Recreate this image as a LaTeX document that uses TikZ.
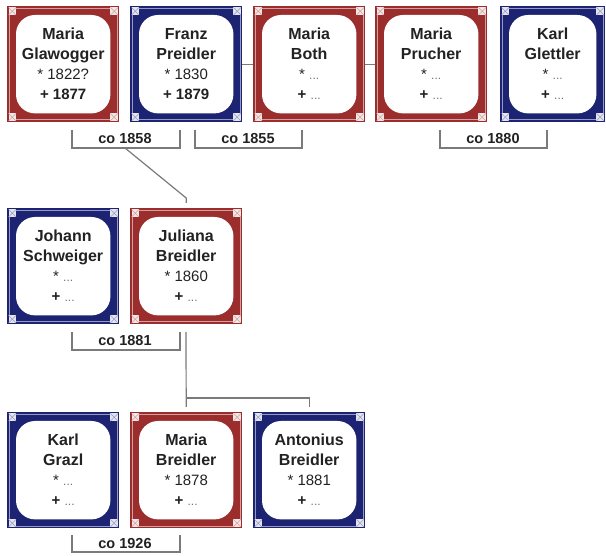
\documentclass[tikz,border=0pt]{standalone}
\usepackage{fontspec}
\setmainfont{Liberation Sans}
\usetikzlibrary{calc}
\definecolor{fred}{HTML}{9B2D2D}
\definecolor{fblue}{HTML}{1C2372}
\definecolor{lgray}{HTML}{7A7A7A}
\definecolor{ftext}{HTML}{222222}
\tikzset{
  conn/.style={draw=lgray, line width=1.2pt},
  frame/.style={draw=none, rectangle, inner sep=0pt, minimum height=116pt},
  names/.style={align=center, text=ftext, font=\fontsize{16}{20}\selectfont\bfseries, inner sep=0pt},
  marr/.style={text=ftext, font=\fontsize{14.5}{16}\selectfont\bfseries, inner sep=0pt},
}
\newcommand\pborn[1]{{\fontsize{15}{20}\selectfont\mdseries * #1}}
\newcommand\pdied[1]{{\fontsize{15}{20}\selectfont + #1}}
\newcommand\punk{{\color{black!55}\fontsize{12}{20}\selectfont\mdseries ...}}
\newcommand\person[6]{%
  \node[frame, fill=#5, minimum width=#4pt, anchor=north west] (#1) at (#2,#3) {};
  \draw[white, opacity=0.55, line width=0.8pt] ([shift={(2.5pt,-2.5pt)}]#1.north west) rectangle ([shift={(-2.5pt,2.5pt)}]#1.south east);
  \fill[white, rounded corners=19pt] ([shift={(9pt,-9pt)}]#1.north west) rectangle ([shift={(-9pt,9pt)}]#1.south east);
  \foreach \a/\sx/\sy in {north west/1/-1, north east/-1/-1, south west/1/1, south east/-1/1} {
    \path ([shift={(\sx*1.5pt,\sy*1.5pt)}]#1.\a) coordinate (cA)
          ([shift={(\sx*9pt,\sy*9pt)}]#1.\a) coordinate (cB);
    \fill[white!88!#5] (cA) rectangle (cB);
    \draw[white!55!#5, line width=0.5pt] (cA) -- (cB) (cA -| cB) -- (cA |- cB);
  }
  \node[names] at (#1.center) {#6};
}
\begin{document}
\begin{tikzpicture}[x=1pt,y=-1pt]
\useasboundingbox[fill=white] (0,0) rectangle (606,556);
% row 1
\person{mg}{7}{6}{112}{fred}{Maria\\Glawogger\\\pborn{1822?}\\\pdied{1877}}
\person{fp}{130}{6}{112}{fblue}{Franz\\Preidler\\\pborn{1830}\\\pdied{1879}}
\person{mb}{253}{6}{112}{fred}{Maria\\Both\\\pborn{\punk}\\\pdied{\punk}}
\person{mp}{375}{6}{112}{fred}{Maria\\Prucher\\\pborn{\punk}\\\pdied{\punk}}
\person{kg}{500}{6}{105}{fblue}{Karl\\Glettler\\\pborn{\punk}\\\pdied{\punk}}
% row 2
\person{js}{7}{208}{112}{fblue}{Johann\\Schweiger\\\pborn{\punk}\\\pdied{\punk}}
\person{jb}{130}{208}{112}{fred}{Juliana\\Breidler\\\pborn{1860}\\\pdied{\punk}}
% row 3
\person{kgr}{7}{412}{112}{fblue}{Karl\\Grazl\\\pborn{\punk}\\\pdied{\punk}}
\person{mbr}{130}{412}{112}{fred}{Maria\\Breidler\\\pborn{1878}\\\pdied{\punk}}
\person{ab}{253}{412}{112}{fblue}{Antonius\\Breidler\\\pborn{1881}\\\pdied{\punk}}
% partner lines
\draw[conn] (fp.east) -- (mb.west);
\draw[conn] (mb.east) -- (mp.west);
% marriage brackets
\draw[conn] (72,130) -- (72,148) -- (180,148) -- (180,130);
\node[marr] (m1858) at (125,139) {co 1858};
\draw[conn] (195,130) -- (195,148) -- (302,148) -- (302,130);
\node[marr] (m1855) at (248,139) {co 1855};
\draw[conn] (440,130) -- (440,148) -- (547,148) -- (547,130);
\node[marr] (m1880) at (493,139) {co 1880};
\draw[conn] (72,332) -- (72,350) -- (180,350) -- (180,332);
\node[marr] (m1881) at (125,341) {co 1881};
\draw[conn] (72,535) -- (72,552) -- (180,552) -- (180,535);
\node[marr] (m1926) at (125,544) {co 1926};
% descent lines
\coordinate (d1858) at (125,148);
\draw[conn] (d1858) -- ([yshift=10pt]jb.north) -- ([yshift=5pt]jb.north);
\coordinate (d1881) at (186,332);
\coordinate (fam) at (186,398);
\draw[conn] (d1881) -- ([yshift=5pt]mbr.north);
\draw[conn] (fam) -- (fam -| ab.north) -- ([yshift=5pt]ab.north);
\end{tikzpicture}
\end{document}
